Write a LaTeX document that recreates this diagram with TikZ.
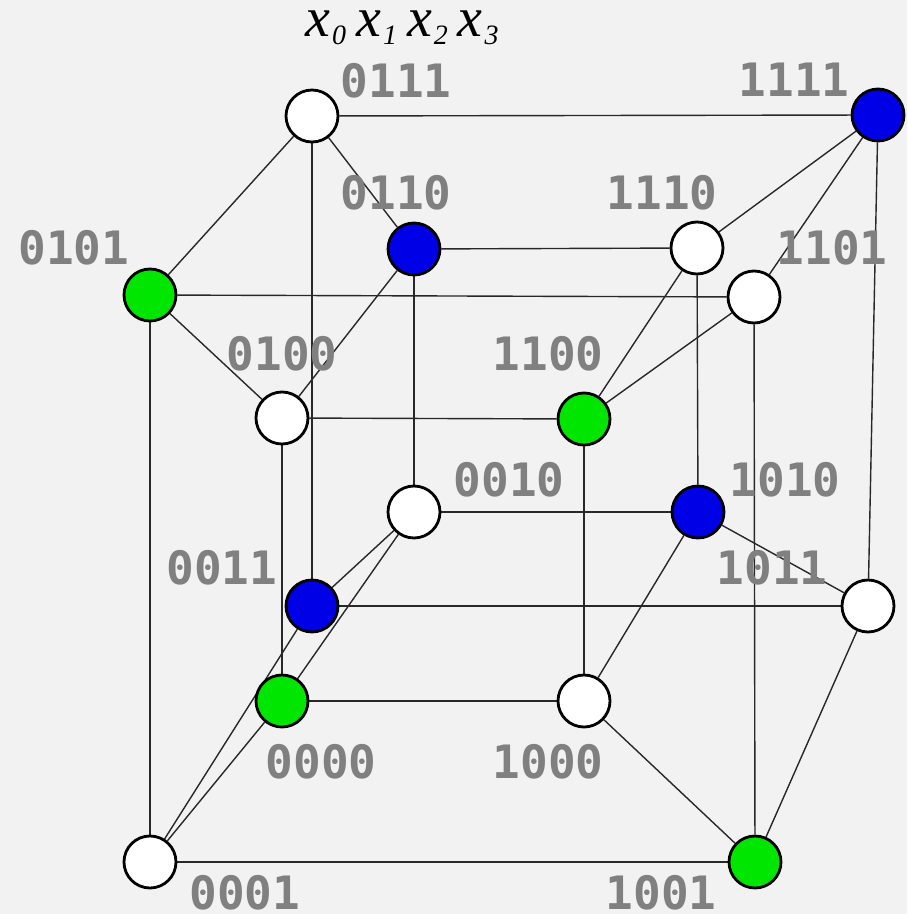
\documentclass[tikz,border=0pt]{standalone}
\usepackage{fontspec}
\usepackage{tikz}
\usetikzlibrary{backgrounds}
\newfontfamily\bitfont{DejaVu Sans Mono}
\newfontfamily\headfont{Liberation Serif}
\definecolor{bggray}{RGB}{242,242,242}
\definecolor{bitgray}{RGB}{128,128,128}
\definecolor{wiregray}{RGB}{40,40,40}
\definecolor{nodegreen}{RGB}{0,230,0}
\definecolor{nodeblue}{RGB}{0,0,230}
\newcommand{\bitvar}[1]{x\kern1pt\raisebox{-4pt}{\fontsize{14}{14}\selectfont #1}}
\tikzset{
  vertex/.style={circle, draw=black, line width=1.4pt,
    minimum size=26pt, inner sep=0pt},
  bitlabel/.style={font=\bitfont\bfseries\fontsize{23}{23}\selectfont,
    text=bitgray, inner sep=0pt},
  wire/.style={line width=0.7pt, color=wiregray}
}
\begin{document}
\begin{tikzpicture}[x=0.5pt,y=-0.5pt]
  % Header with the bit order
  \node[font=\headfont\itshape\fontsize{28}{28}\selectfont, anchor=base,
    inner sep=0pt] (order) at (402,37)
    {\bitvar{0}\hspace{5pt}\bitvar{1}\hspace{5pt}\bitvar{2}\hspace{5pt}\bitvar{3}};

  % Vertices of the hypercube and their labels
  \foreach \bits/\px/\py/\col/\lx/\ly in {
      0111/312/116/white/396/81,
      1111/878/115/nodeblue/794/80,
      0110/414/249/nodeblue/396/193,
      1110/697/248/white/662/193,
      0101/150/295/nodegreen/74/248,
      1101/754/297/white/832/248,
      0100/282/418/white/282/354,
      1100/584/419/nodegreen/548/354,
      0010/414/512/white/509/480,
      1010/698/512/nodeblue/785/480,
      0011/312/606/nodeblue/222/568,
      1011/868/606/white/772/568,
      0000/282/701/nodegreen/321/762,
      1000/584/701/white/548/762,
      0001/150/862/white/245/893,
      1001/755/862/nodegreen/661/893}
  {
    \node[vertex, fill=\col] (v\bits) at (\px,\py) {};
    \node[bitlabel] (l\bits) at (\lx,\ly) {\bits};
  }

  % Edges between vertices one bit apart
  \begin{scope}[on background layer]
    \fill[bggray] (0,0) rectangle (907,914);
    \foreach \a/\b in {
        0000/1000, 0000/0100, 0000/0010, 0000/0001,
        0001/1001, 0001/0101, 0001/0011,
        0010/1010, 0010/0110, 0010/0011,
        0011/1011, 0011/0111,
        0100/1100, 0100/0110, 0100/0101,
        0101/1101, 0101/0111,
        0110/1110, 0110/0111,
        0111/1111,
        1000/1100, 1000/1010, 1000/1001,
        1001/1101, 1001/1011,
        1010/1110, 1010/1011,
        1011/1111,
        1100/1110, 1100/1101,
        1101/1111,
        1110/1111}
      \draw[wire] (v\a) -- (v\b);
  \end{scope}
\end{tikzpicture}
\end{document}
